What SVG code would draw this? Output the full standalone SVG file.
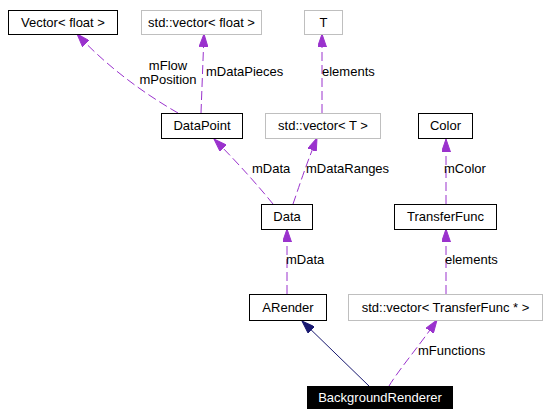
<svg xmlns="http://www.w3.org/2000/svg" width="550" height="418" viewBox="0 0 550 418">
<style>
text{font-family:"Liberation Sans",Arial,sans-serif;font-size:13px;fill:#000}
.n rect{fill:#fff;stroke:#000;stroke-width:1}
.g rect{fill:#fff;stroke:#bfbfbf;stroke-width:1}
.n text,.g text{text-anchor:middle}
.d{fill:none;stroke:#9a32cd;stroke-width:1;stroke-dasharray:9,4;marker-end:url(#ap)}
.s{fill:none;stroke:#191970;stroke-width:1;marker-end:url(#an)}
</style>
<defs>
<marker id="ap" markerUnits="userSpaceOnUse" viewBox="0 0 13 9" refX="13" refY="4.5" markerWidth="13" markerHeight="9" orient="auto"><path d="M0,0 L13,4.5 L0,9 z" fill="#9a32cd" stroke="#9a32cd"/></marker>
<marker id="an" markerUnits="userSpaceOnUse" viewBox="0 0 13 9" refX="13" refY="4.5" markerWidth="13" markerHeight="9" orient="auto"><path d="M0,0 L13,4.5 L0,9 z" fill="#191970" stroke="#191970"/></marker>
</defs>
<rect width="550" height="418" fill="#fff"/>
<g id="connectors">
<path class="d" d="M178,113 C150,97 110,70 77,34"/>
<path class="d" d="M201,113 L204,34"/>
<path class="d" d="M322,113 L322,34"/>
<path class="d" d="M273,204 C260,188 240,165 214,139"/>
<path class="d" d="M293,204 C298,190 304,170 317,138"/>
<path class="d" d="M446,204 L446,139"/>
<path class="d" d="M287,294 L287,229"/>
<path class="d" d="M446,294 L446,229"/>
<path class="s" d="M369,386 L302,321"/>
<path class="d" d="M389,386 C400,368 420,345 437,320"/>
<text x="168" y="70" text-anchor="middle">mFlow</text>
<text x="168" y="84" text-anchor="middle">mPosition</text>
<text x="206" y="76">mDataPieces</text>
<text x="322" y="76">elements</text>
<text x="252" y="173">mData</text>
<text x="306" y="173">mDataRanges</text>
<text x="444" y="173">mColor</text>
<text x="286" y="264">mData</text>
<text x="445" y="264">elements</text>
<text x="418" y="355">mFunctions</text>
</g>
<g id="vector_float" class="n"><rect x="8.5" y="10.5" width="109" height="24"/><text x="63" y="26.5">Vector&lt; float &gt;</text></g>
<g id="std_vector_float" class="g"><rect x="141.5" y="10.5" width="120" height="24"/><text x="201.5" y="26.5">std::vector&lt; float &gt;</text></g>
<g id="T" class="g"><rect x="304.5" y="10.5" width="38" height="24"/><text x="323.5" y="26.5">T</text></g>
<g id="DataPoint" class="n"><rect x="161.5" y="113.5" width="81" height="25"/><text x="202" y="130">DataPoint</text></g>
<g id="std_vector_T" class="g"><rect x="265.5" y="113.5" width="115" height="25"/><text x="323" y="130">std::vector&lt; T &gt;</text></g>
<g id="Color" class="n"><rect x="418.5" y="113.5" width="54" height="25"/><text x="445.5" y="130">Color</text></g>
<g id="Data" class="n"><rect x="261.5" y="204.5" width="51" height="25"/><text x="287" y="221">Data</text></g>
<g id="TransferFunc" class="n"><rect x="394.5" y="204.5" width="102" height="25"/><text x="445.5" y="221">TransferFunc</text></g>
<g id="ARender" class="n"><rect x="249.5" y="294.5" width="77" height="26"/><text x="288" y="312">ARender</text></g>
<g id="std_vector_TransferFunc_ptr" class="g"><rect x="348.5" y="294.5" width="194" height="26"/><text x="445.5" y="312">std::vector&lt; TransferFunc * &gt;</text></g>
<g id="BackgroundRenderer"><rect x="307" y="386" width="146" height="23" fill="#000"/><text x="380" y="402" text-anchor="middle" style="fill:#fff">BackgroundRenderer</text></g>
</svg>
